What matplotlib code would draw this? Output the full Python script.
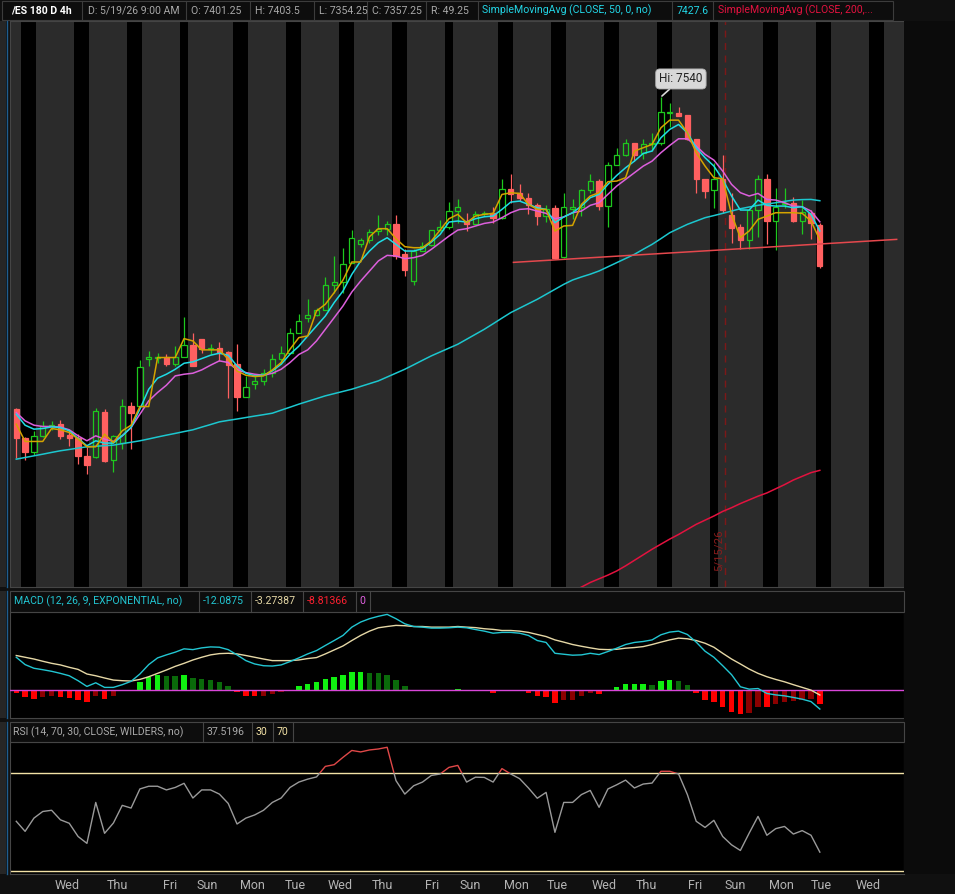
import numpy as np
import matplotlib
matplotlib.use('Agg')
import matplotlib.pyplot as plt
from matplotlib.patches import Rectangle

plt.rcParams['font.family'] = ['Roboto', 'DejaVu Sans']

# ---------------- data (4h bars of /ES) ----------------
opens = [7201.7, 7170.0, 7155.5, 7172.8, 7183.6, 7185.2, 7173.6, 7170.0, 7150.5, 7150.1,
         7199.2, 7146.2, 7165.0, 7204.7, 7204.7, 7256.6, 7257.0, 7258.6, 7251.2, 7258.6,
         7271.0, 7277.5, 7266.7, 7268.5, 7263.8, 7250.4, 7215.0, 7229.5, 7232.8, 7240.7,
         7255.8, 7262.3, 7284.6, 7301.0, 7304.0, 7309.0, 7336.0, 7339.0, 7360.5, 7381.0,
         7385.4, 7394.4, 7396.5, 7402.7, 7369.5, 7340.7, 7373.0, 7380.0, 7395.5, 7399.0,
         7416.4, 7405.6, 7402.7, 7412.8, 7414.6, 7409.0, 7440.6, 7436.0, 7431.0, 7422.5,
         7411.0, 7420.0, 7367.0, 7419.0, 7421.0, 7438.7, 7448.5, 7421.8, 7466.6, 7477.4,
         7489.6, 7479.5, 7489.0, 7490.4, 7522.4, 7522.8, 7520.0, 7494.7, 7451.4, 7439.0,
         7451.4, 7411.7, 7398.7, 7385.0, 7417.5, 7451.4, 7405.6, 7423.6, 7424.7, 7405.6,
         7413.9, 7401.25]
highs = [7202.5, 7172.0, 7178.0, 7188.7, 7188.7, 7189.8, 7178.8, 7174.7, 7161.0, 7202.8,
         7201.7, 7173.5, 7212.6, 7210.0, 7255.0, 7264.5, 7263.0, 7261.0, 7270.0, 7302.0,
         7284.6, 7277.5, 7272.0, 7275.0, 7264.5, 7272.0, 7238.0, 7238.0, 7245.0, 7261.3,
         7270.0, 7290.0, 7305.0, 7321.0, 7311.7, 7345.0, 7367.6, 7376.6, 7396.4, 7387.1,
         7397.0, 7411.7, 7405.5, 7411.7, 7375.0, 7375.0, 7382.5, 7395.8, 7407.0, 7426.0,
         7429.0, 7413.9, 7416.5, 7416.5, 7421.0, 7451.4, 7456.0, 7445.3, 7436.0, 7425.6,
         7422.5, 7422.5, 7436.0, 7429.0, 7440.0, 7456.0, 7450.6, 7469.4, 7485.0, 7494.0,
         7490.4, 7494.0, 7501.0, 7540.0, 7533.0, 7529.0, 7520.5, 7494.7, 7451.4, 7468.7,
         7476.6, 7436.0, 7402.0, 7417.5, 7455.0, 7456.0, 7441.7, 7441.7, 7432.0, 7428.0,
         7417.5, 7403.5]
lows = [7148.4, 7147.0, 7152.0, 7172.0, 7179.3, 7169.3, 7161.8, 7142.2, 7131.4, 7149.0,
        7144.7, 7134.0, 7158.4, 7158.4, 7204.7, 7248.6, 7252.3, 7248.6, 7248.6, 7258.6,
        7248.6, 7263.0, 7261.0, 7254.0, 7214.0, 7200.0, 7215.0, 7224.0, 7227.7, 7236.1,
        7250.4, 7262.3, 7284.6, 7296.0, 7302.7, 7309.0, 7328.0, 7328.0, 7360.5, 7377.4,
        7382.0, 7390.0, 7390.0, 7364.0, 7346.0, 7336.0, 7372.8, 7378.0, 7395.0, 7397.0,
        7403.8, 7394.8, 7402.0, 7411.0, 7403.0, 7408.0, 7425.5, 7427.3, 7412.8, 7401.4,
        7405.0, 7364.0, 7365.0, 7408.1, 7411.0, 7436.0, 7418.0, 7399.4, 7466.0, 7476.0,
        7470.5, 7472.4, 7481.0, 7488.0, 7508.0, 7519.0, 7493.0, 7435.5, 7431.0, 7420.0,
        7414.6, 7382.0, 7375.6, 7375.6, 7388.0, 7381.0, 7374.0, 7420.0, 7404.0, 7392.0,
        7385.7, 7354.25]
closes = [7170.0, 7155.5, 7172.8, 7183.6, 7185.0, 7172.8, 7170.0, 7150.5, 7141.5, 7199.9,
          7145.5, 7172.8, 7204.7, 7197.8, 7247.9, 7258.6, 7258.6, 7250.4, 7258.6, 7271.0,
          7248.6, 7266.7, 7268.5, 7263.0, 7250.0, 7215.0, 7226.3, 7232.8, 7240.7, 7255.8,
          7262.3, 7284.6, 7297.0, 7304.0, 7309.0, 7336.0, 7339.0, 7359.4, 7387.6, 7385.4,
          7394.0, 7396.5, 7402.7, 7367.6, 7352.5, 7373.0, 7379.0, 7395.5, 7399.0, 7416.8,
          7421.0, 7402.0, 7413.5, 7414.6, 7409.0, 7440.6, 7435.0, 7431.0, 7422.5, 7411.0,
          7419.0, 7366.0, 7421.0, 7421.0, 7438.7, 7448.5, 7421.8, 7466.6, 7477.4, 7489.6,
          7477.4, 7489.0, 7490.4, 7524.0, 7524.0, 7519.0, 7494.7, 7450.6, 7438.0, 7451.4,
          7418.0, 7397.6, 7385.0, 7417.5, 7451.4, 7405.6, 7421.0, 7425.4, 7405.6, 7415.0,
          7403.0, 7357.25]

ma_yellow = [7185.5, 7166.8, 7166.8, 7166.8, 7180.8, 7179.4, 7176.5, 7169.3, 7161.0, 7161.0,
             7174.7, 7165.7, 7178.3, 7184.4, 7204.6, 7204.6, 7257.7, 7257.7, 7257.7, 7278.2,
             7275.7, 7266.0, 7266.0, 7266.0, 7255.9, 7243.2, 7238.5, 7237.1, 7237.8, 7244.3,
             7252.3, 7266.7, 7279.3, 7281.1, 7308.2, 7315.4, 7328.0, 7341.7, 7361.2, 7361.2,
             7388.6, 7397.3, 7397.3, 7386.4, 7377.8, 7376.7, 7376.7, 7383.9, 7395.8, 7408.1,
             7412.8, 7403.8, 7411.0, 7412.8, 7413.9, 7434.4, 7436.2, 7435.5, 7423.6, 7418.2,
             7418.2, 7394.7, 7400.2, 7400.9, 7423.6, 7432.7, 7436.3, 7448.2, 7448.9, 7452.5,
             7481.4, 7485.0, 7488.6, 7506.6, 7514.9, 7514.9, 7501.2, 7479.6, 7465.1, 7452.5,
             7451.4, 7412.8, 7387.6, 7394.8, 7407.4, 7411.0, 7414.6, 7414.6, 7414.6, 7413.9,
             7405.6, 7385.07]
ma_cyan = [7196.3, 7184.4, 7180.1, 7180.8, 7182.6, 7181.9, 7178.3, 7170.0, 7162.1, 7167.5,
           7165.0, 7165.0, 7172.9, 7181.9, 7201.8, 7223.4, 7235.3, 7239.6, 7245.0, 7251.5,
           7253.0, 7256.6, 7260.2, 7262.4, 7260.2, 7248.6, 7240.7, 7237.8, 7238.5, 7243.2,
           7250.5, 7261.3, 7270.0, 7281.1, 7291.9, 7302.7, 7317.2, 7329.8, 7347.8, 7362.3,
           7373.1, 7382.1, 7387.5, 7380.3, 7373.1, 7373.1, 7375.6, 7382.8, 7391.1, 7404.5,
           7405.6, 7404.5, 7408.1, 7410.2, 7411.0, 7418.2, 7426.1, 7427.2, 7423.6, 7420.0,
           7418.2, 7403.8, 7410.0, 7414.6, 7421.8, 7430.9, 7434.5, 7445.3, 7455.0, 7463.3,
           7470.5, 7478.8, 7481.4, 7495.8, 7504.8, 7510.2, 7501.2, 7485.0, 7474.2, 7465.1,
           7450.7, 7432.7, 7417.5, 7417.5, 7428.3, 7422.6, 7421.8, 7421.8, 7420.0, 7421.1,
           7412.8, 7394.8]
ma_magenta = [7198.1, 7189.1, 7184.4, 7183.0, 7183.0, 7182.3, 7179.4, 7172.9, 7167.5, 7172.9,
              7169.3, 7166.8, 7172.9, 7181.9, 7196.3, 7210.8, 7219.8, 7227.7, 7237.8, 7239.6,
              7240.7, 7244.3, 7249.4, 7254.1, 7252.3, 7244.3, 7241.4, 7239.6, 7238.5, 7240.7,
              7245.0, 7252.3, 7261.0, 7266.0, 7275.7, 7288.3, 7300.9, 7313.6, 7328.7, 7340.6,
              7351.4, 7362.3, 7368.4, 7367.7, 7364.8, 7365.9, 7368.4, 7374.9, 7382.1, 7389.3,
              7395.8, 7397.3, 7400.2, 7403.0, 7404.5, 7409.2, 7414.6, 7418.2, 7418.9, 7416.4,
              7413.9, 7408.1, 7410.0, 7414.6, 7416.4, 7422.6, 7425.4, 7434.5, 7443.5, 7450.7,
              7457.9, 7465.1, 7470.5, 7479.6, 7487.5, 7494.7, 7494.7, 7486.8, 7477.8, 7471.6,
              7459.7, 7445.3, 7436.3, 7432.7, 7435.5, 7429.0, 7428.3, 7425.4, 7421.8, 7421.1,
              7416.4, 7404.7]
sma50 = [7147.6, 7149.4, 7151.2, 7153.0, 7154.9, 7156.7, 7158.1, 7159.6, 7161.0, 7161.6,
         7162.2, 7162.8, 7164.4, 7165.9, 7167.5, 7169.5, 7171.6, 7173.6, 7175.5, 7177.5,
         7179.4, 7182.3, 7185.1, 7188.0, 7189.6, 7191.1, 7192.7, 7194.3, 7195.8, 7197.4,
         7200.7, 7203.9, 7207.2, 7210.2, 7213.2, 7216.2, 7218.6, 7221.0, 7223.4, 7226.4,
         7229.4, 7232.4, 7236.6, 7240.8, 7245.0, 7249.8, 7254.7, 7259.5, 7263.7, 7267.9,
         7272.1, 7277.5, 7282.9, 7288.3, 7294.3, 7300.4, 7306.4, 7311.2, 7316.0, 7320.8,
         7326.2, 7331.6, 7337.0, 7341.7, 7345.0, 7348.0, 7351.5, 7356.0, 7360.5, 7365.0,
         7369.5, 7375.0, 7380.3, 7386.5, 7392.9, 7397.5, 7402.0, 7405.6, 7409.2, 7411.5,
         7413.9, 7416.4, 7418.9, 7420.8, 7422.6, 7424.0, 7425.4, 7426.9, 7428.3, 7428.8,
         7429.0, 7427.6]
sma200_first_bar = 63
sma200 = [7004.0, 7009.0, 7014.0, 7018.0, 7022.0, 7026.5, 7032.0, 7038.0, 7044.0, 7050.0,
          7055.5, 7061.0, 7066.0, 7071.5, 7077.0, 7081.5, 7086.0, 7091.0, 7095.0, 7099.5,
          7103.5, 7107.5, 7111.0, 7115.5, 7120.0, 7125.0, 7129.0, 7133.0, 7135.48]

trend_bars = [56.3, 99.7]
trend_prices = [7360.8, 7385.7]
event_bar = 80.3
event_label = '5/15/26'

macd = [20.4, 15.8, 13.5, 12.6, 11.6, 10.3, 8.8, 5.7, 2.1, 4.4,
        1.5, 1.5, 3.2, 5.3, 9.9, 15.8, 20.0, 21.9, 23.6, 25.7,
        25.2, 26.3, 26.9, 26.7, 25.2, 21.9, 18.3, 16.2, 15.1, 14.9,
        15.6, 17.7, 20.0, 22.5, 24.6, 27.8, 30.9, 34.1, 39.3, 42.5,
        44.6, 46.1, 47.3, 44.6, 41.4, 39.7, 39.3, 38.7, 38.7, 38.9,
        39.3, 38.9, 37.8, 36.8, 35.5, 36.0, 36.0, 35.5, 34.1, 30.9,
        29.7, 22.9, 22.3, 21.7, 21.9, 22.9, 22.1, 24.0, 26.1, 28.4,
        29.7, 30.3, 31.3, 34.5, 36.2, 36.8, 34.7, 29.9, 24.2, 20.4,
        15.1, 9.5, 1.9, 0.4, 0.8, -2.3, -3.2, -3.8, -4.8, -5.9,
        -7.4, -12.0875]
signal = [21.5, 20.4, 19.3, 17.9, 16.6, 15.6, 14.1, 12.8, 9.9, 8.8,
          7.4, 6.1, 5.7, 5.5, 6.5, 8.2, 10.3, 12.4, 14.7, 16.6,
          18.7, 20.4, 21.9, 22.7, 22.9, 22.5, 21.5, 20.4, 19.3, 18.3,
          18.3, 18.3, 18.7, 19.6, 20.2, 22.5, 25.0, 27.5, 30.9, 34.1,
          36.8, 38.9, 39.7, 40.4, 40.2, 39.7, 39.7, 39.3, 39.3, 39.3,
          39.7, 39.3, 39.0, 38.3, 37.9, 37.2, 37.2, 36.8, 36.0, 34.7,
          33.4, 31.3, 29.9, 28.4, 27.3, 26.3, 25.4, 25.2, 25.4, 26.1,
          26.5, 27.1, 28.4, 29.9, 31.3, 32.4, 32.0, 30.9, 29.2, 26.7,
          22.9, 19.3, 16.2, 13.0, 10.3, 8.2, 6.5, 5.0, 3.2, 1.5,
          -0.2, -3.27387]
hist = [-2.1, -4.8, -5.5, -4.8, -4.2, -4.8, -4.9, -6.1, -7.4, -4.2,
        -5.5, -4.2, -0.8, -0.3, 4.6, 8.0, 9.0, 8.9, 8.8, 9.1,
        7.1, 6.5, 5.9, 4.6, 2.1, -1.7, -3.6, -4.2, -4.0, -2.9,
        -1.7, -0.2, 2.1, 3.8, 4.6, 6.5, 7.8, 9.0, 10.9, 11.0,
        10.8, 10.3, 9.0, 5.9, 2.1, -0.1, -0.4, -0.3, -0.2, 0.1,
        0.8, -0.4, -0.8, -0.6, -2.1, -0.6, -0.2, -0.8, -2.1, -4.2,
        -4.4, -8.0, -6.7, -6.1, -4.2, -2.1, -2.9, -0.4, 1.5, 3.4,
        3.5, 3.6, 3.3, 5.3, 5.9, 5.3, 2.7, -2.1, -6.1, -7.4,
        -10.5, -13.7, -15.5, -14.3, -10.5, -10.6, -9.2, -7.4, -7.3, -6.1,
        -6.0, -8.81366]
rsi = [50.1, 46.0, 51.4, 54.1, 54.6, 50.7, 49.3, 43.9, 41.1, 57.8,
       45.2, 49.4, 56.6, 55.5, 63.3, 64.4, 64.4, 62.9, 63.9, 65.6,
       59.6, 62.9, 62.9, 61.2, 57.4, 49.0, 51.4, 52.7, 54.6, 57.8,
       59.6, 63.9, 66.1, 67.3, 68.2, 72.5, 73.2, 76.2, 79.0, 78.4,
       79.2, 79.6, 80.3, 66.7, 61.2, 64.6, 66.1, 68.8, 69.4, 72.1,
       72.9, 66.1, 68.1, 68.0, 66.1, 71.6, 69.4, 67.5, 63.7, 59.5,
       61.9, 45.6, 57.8, 57.8, 61.0, 62.7, 55.8, 63.3, 65.0, 66.9,
       63.7, 65.3, 65.7, 70.5, 70.5, 69.4, 61.0, 50.1, 47.6, 50.5,
       43.9, 40.5, 38.2, 45.3, 52.1, 44.4, 47.1, 48.0, 44.9, 46.3,
       44.4, 37.5196]

day_names = ['Wed', 'Thu', 'Fri', 'Sun', 'Mon', 'Tue', 'Wed', 'Thu', 'Fri', 'Sun',
             'Mon', 'Tue', 'Wed', 'Thu', 'Fri', 'Sun', 'Mon', 'Tue', 'Wed']
day_tick_bars = [5.74, 11.4, 17.4, 21.6, 26.8, 31.6, 36.7, 41.5, 47.1, 51.4,
                 56.6, 61.3, 66.6, 71.4, 76.9, 81.4, 86.6, 91.2, 96.5]
rth_first_start = 0.53   # start of first regular session shading (bar units)

# ---------------- figure ----------------
W, H = 955, 894
fig = plt.figure(figsize=(W / 100, H / 100), dpi=100)
fig.patch.set_facecolor('#101010')
HDR = 7.6


def fx(x):
    return x / W


def fy(y):
    return 1 - y / H


def add_ax(x0, y0, x1, y1):
    return fig.add_axes([fx(x0), fy(y1), (x1 - x0) / W, (y1 - y0) / H])


def frect(x0, y0, x1, y1, fc, ec='none', lw=0.8, z=0):
    r = Rectangle((fx(x0), fy(y1)), (x1 - x0) / W, (y1 - y0) / H, transform=fig.transFigure,
                  facecolor=fc, edgecolor=ec, linewidth=lw, zorder=z)
    fig.patches.append(r)


def fline(x0, y0, x1, y1, c, lw=0.8):
    fig.add_artist(plt.Line2D([fx(x0), fx(x1)], [fy(y0), fy(y1)], color=c, lw=lw,
                              transform=fig.transFigure))


def ftext(x, y, s, c, size=HDR, weight='normal'):
    fig.text(fx(x), fy(y), s, color=c, fontsize=size, fontweight=weight, ha='left', va='center')


n = len(closes)
x = np.arange(n)
XLIM = (-0.71, 100.53)
TICK_COL = '#9c9c9c'

# background strips
frect(0, 21, 6, 587, '#262626')
frect(0, 591, 6, 718, '#262626')
frect(0, 722, 6, 874, '#262626')
for (a, b) in [(21, 587), (591, 718), (722, 874)]:
    fline(6.5, a, 6.5, b, '#1f5d8f', 1.0)
frect(904, 21, 955, 874, '#0b0b0b')

main = add_ax(10, 21, 904, 587)
pm = add_ax(10, 612, 904, 718)
pr = add_ax(10, 742, 904, 874)

for ax in (main, pm, pr):
    ax.set_xlim(*XLIM)
    for s in ax.spines.values():
        s.set_color('#454545')
        s.set_linewidth(0.8)
    ax.yaxis.tick_right()
    ax.tick_params(axis='y', length=0, pad=3, labelsize=8.5, labelcolor=TICK_COL)
    ax.tick_params(axis='x', length=0)

# ---------------- main price panel ----------------
main.set_facecolor('#2b2b2b')
main.set_ylim(7009.1, 7622.3)
for k in range(17):
    s = rth_first_start + 6 * k
    w = 0.9 if k % 5 == 3 else 1.7
    main.axvspan(s, s + w, color='black', lw=0, zorder=0)

UP = '#1ec81e'
DN = '#ff6060'
o = np.array(opens); c = np.array(closes); h = np.array(highs); l = np.array(lows)
up = c >= o
body_lo = np.minimum(o, c)
body_hi = np.maximum(o, c)
cols = np.where(up, UP, DN)
main.vlines(x, l, body_lo, colors=cols, lw=0.9, zorder=3)
main.vlines(x, body_hi, h, colors=cols, lw=0.9, zorder=3)
fcs = [(0, 0, 0, 0) if u else DN for u in up]
main.bar(x, body_hi - body_lo, bottom=body_lo, width=0.6, facecolor=fcs, edgecolor=cols,
         linewidth=0.9, zorder=3)

main.plot(x, sma50, color='#1cc7cf', lw=1.1, zorder=4)
main.plot(np.arange(sma200_first_bar, sma200_first_bar + len(sma200)), sma200,
          color='#e3123f', lw=1.1, zorder=4)
main.plot(x, ma_magenta, color='#dc5fdc', lw=1.1, zorder=5)
main.plot(x, ma_cyan, color='#1fdde6', lw=1.1, zorder=5)
main.plot(x, ma_yellow, color='#d4a300', lw=1.1, zorder=6)
main.plot(trend_bars, trend_prices, color='#e5484d', lw=1.1, zorder=6)

main.axvline(event_bar, color='#7d1818', lw=1.0, ls=(0, (5, 4)), zorder=2)
main.text(event_bar - 0.8, 7049, event_label, rotation=90, color='#8a1c1c', fontsize=8.2,
          ha='center', va='center', zorder=2)

ihi = int(np.argmax(h))
main.annotate(f'Hi: {h[ihi]:g}', xy=(x[ihi], h[ihi]), xytext=(20, 18), textcoords='offset pixels',
              fontsize=8.5, color='#222222', ha='center', va='center', zorder=8,
              bbox=dict(boxstyle='round,pad=0.3,rounding_size=0.35', fc='#d8d8d8', ec='#a8a8a8', lw=0.6),
              arrowprops=dict(arrowstyle='-', color='#d8d8d8', lw=1.2, shrinkA=0, shrinkB=1))

main.set_yticks(np.arange(7050, 7601, 50))
main.tick_params(axis='x', labelbottom=False)


def vbox(ax, val, txt, fc, tc):
    ax.text(1.0035, val, txt, transform=ax.get_yaxis_transform(), ha='left', va='center',
            fontsize=8.5, color=tc, zorder=10, clip_on=False,
            bbox=dict(boxstyle='round,pad=0.18,rounding_size=0.3', fc=fc, ec='none'))


vbox(main, sma50[-1], '7427.6', '#12e6f2', '#000000')
vbox(main, ma_magenta[-1], '7404.7', '#f262f2', '#000000')
vbox(main, ma_yellow[-1], '7385.07', '#e0ae00', '#000000')
vbox(main, closes[-1], '7357.25', '#ff5c5c', '#000000')
vbox(main, sma200[-1], '7135.48', '#ff1744', '#ffffff')

# ---------------- MACD panel ----------------
pm.set_facecolor('black')
pm.set_ylim(-17.7, 48.8)
hcols = []
for i, v in enumerate(hist):
    prev = hist[i - 1] if i > 0 else 0.0
    if v >= 0:
        hcols.append('#10f010' if v >= prev else '#0a6a0a')
    else:
        hcols.append('#ff0000' if v <= prev else '#8b0000')
pm.bar(x, hist, width=0.62, color=hcols, zorder=2)
pm.axhline(0, color='#d846d8', lw=1.0, zorder=3)
pm.plot(x, signal, color='#e6d8a6', lw=1.0, zorder=4)
pm.plot(x, macd, color='#22c6d2', lw=1.0, zorder=5)
pm.set_yticks([20, 40])
pm.tick_params(axis='x', labelbottom=False)
vbox(pm, 0, '0', '#ff5cff', '#000000')
vbox(pm, macd[-1], '-12.088', '#12e6f2', '#000000')

# ---------------- RSI panel ----------------
pr.set_facecolor('black')
pr.set_ylim(28.6, 82.45)
pr.axhline(70, color='#f3e2a6', lw=1.0, zorder=2)
pr.axhline(30, color='#f3e2a6', lw=1.0, zorder=2)
lg, = pr.plot(x, rsi, color='#9a9a9a', lw=1.0, zorder=3)
lr, = pr.plot(x, rsi, color='#e04848', lw=1.0, zorder=4)
clip_lo = Rectangle((XLIM[0], 0), XLIM[1] - XLIM[0], 70, transform=pr.transData)
clip_hi = Rectangle((XLIM[0], 70), XLIM[1] - XLIM[0], 40, transform=pr.transData)
lg.set_clip_path(clip_lo)
lr.set_clip_path(clip_hi)
pr.set_yticks([40, 60, 80])
vbox(pr, rsi[-1], '37.5197', '#8c8c8c', '#ffffff')
pr.set_xticks(day_tick_bars)
pr.set_xticklabels(day_names)
pr.tick_params(axis='x', length=0, pad=3.5, labelsize=9, labelcolor='#b4b4b4')

# ---------------- header strips ----------------
frect(2, 1, 893, 20, '#0d0d0d', '#3c3c3c', 0.8, z=1)
for xd in [82, 186, 250, 314, 367, 426, 478, 672, 712.5]:
    fline(xd, 1, xd, 20, '#3c3c3c')
ftext(11, 10.5, '/ES 180 D 4h', '#ffffff', HDR, 'bold')
ftext(88, 10.5, 'D: 5/19/26 9:00 AM', '#a8a8a8')
ftext(191, 10.5, 'O: 7401.25', '#a8a8a8')
ftext(255, 10.5, 'H: 7403.5', '#a8a8a8')
ftext(319, 10.5, 'L: 7354.25', '#a8a8a8')
ftext(372, 10.5, 'C: 7357.25', '#a8a8a8')
ftext(431, 10.5, 'R: 49.25', '#a8a8a8')
ftext(482, 10.5, 'SimpleMovingAvg (CLOSE, 50, 0, no)', '#22d6e6')
ftext(677, 10.5, '7427.6', '#22d6e6')
ftext(718, 10.5, 'SimpleMovingAvg (CLOSE, 200,...', '#e3123f')

# MACD header
frect(10, 591, 904, 612, '#0d0d0d', '#454545', 0.8, z=1)
for xd in [199, 251, 303, 356, 370]:
    fline(xd, 591, xd, 612, '#454545')
ftext(14, 601.5, 'MACD (12, 26, 9, EXPONENTIAL, no)', '#22c6d2')
ftext(203, 601.5, '-12.0875', '#22c6d2')
ftext(255, 601.5, '-3.27387', '#e6d8a6')
ftext(307, 601.5, '-8.81366', '#ff2030')
ftext(359, 601.5, '0', '#e060e0')

# RSI header
frect(10, 722, 904, 742, '#0d0d0d', '#454545', 0.8, z=1)
for xd in [203, 252, 273, 293]:
    fline(xd, 722, xd, 742, '#454545')
ftext(13, 732, 'RSI (14, 70, 30, CLOSE, WILDERS, no)', '#aaaaaa')
ftext(207, 732, '37.5196', '#aaaaaa')
ftext(256, 732, '30', '#f3e2a6')
ftext(277, 732, '70', '#f3e2a6')

fig.savefig('out.png', dpi=100, facecolor=fig.get_facecolor())
